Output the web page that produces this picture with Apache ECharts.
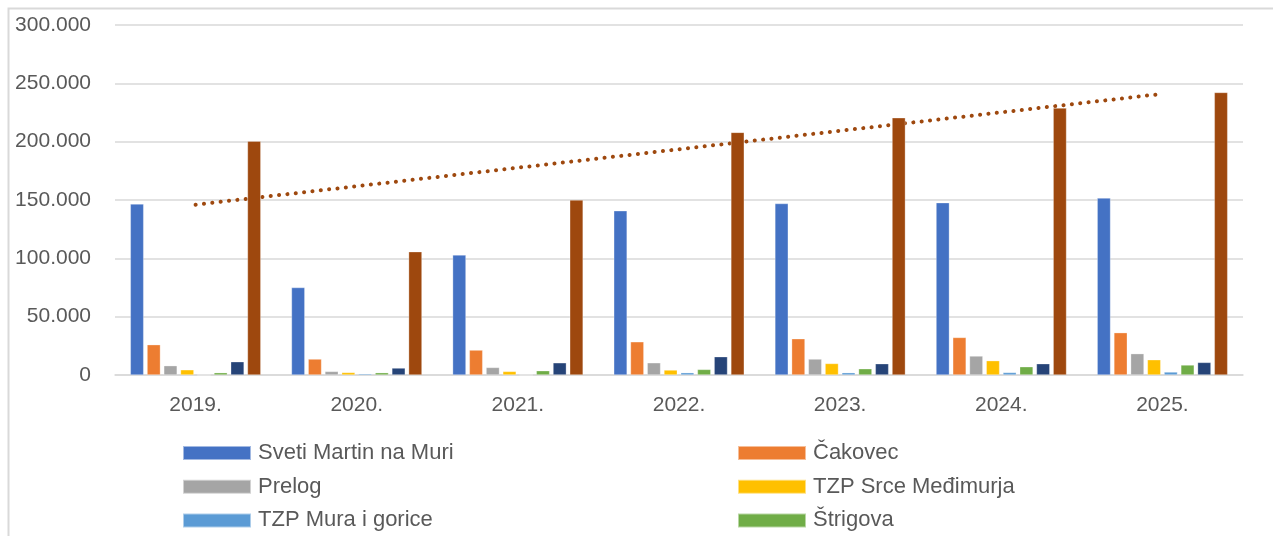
<!DOCTYPE html>
<html>
<head>
<meta charset="utf-8">
<script src="https://cdn.jsdelivr.net/npm/echarts@6/dist/echarts.min.js"></script>
<style>
html,body{margin:0;padding:0;background:#fff;}
#chart{width:1273px;height:536px;}
</style>
</head>
<body>
<div id="chart"></div>
<script>
// ---- data ----
const years = ['2019.', '2020.', '2021.', '2022.', '2023.', '2024.', '2025.'];
const yTicks = { min: 0, max: 300000, interval: 50000 };

const sveti    = [146600, 75000, 102900, 140800, 147000, 147700, 151700];
const cakovec  = [26000, 13700, 21400, 28500, 31100, 32200, 36300];
const prelog   = [8000, 3100, 6500, 10500, 13700, 16300, 18300];
const srce     = [4500, 2200, 3100, 4300, 9900, 12300, 13100];
const mura     = [0, 1100, 0, 2000, 2000, 2200, 2600];
const strigova = [2000, 2000, 3700, 4800, 5400, 7100, 8600];
const ostali   = [11400, 6000, 10500, 15700, 9700, 9700, 10800];
const ukupno   = [200500, 105700, 150000, 208000, 220500, 228800, 242200];

// linear trend line end points
const trendStart = 146000;
const trendEnd = 241000;

const names = ['Sveti Martin na Muri', 'Čakovec', 'Prelog', 'TZP Srce Međimurja',
               'TZP Mura i gorice', 'Štrigova', 'Ostali', 'Ukupno'];
const values = [sveti, cakovec, prelog, srce, mura, strigova, ostali, ukupno];
const colors = ['#4472C4', '#ED7D31', '#A5A5A5', '#FFC000', '#5B9BD5', '#70AD47', '#264478', '#9E480E'];

// ---- chart ----
const FONT = 'Liberation Sans';
const TXT = '#595959';
const chart = echarts.init(document.getElementById('chart'), null, { renderer: 'canvas' });

const trendData = years.map((_, i) => i === 0 ? trendStart : (i === years.length - 1 ? trendEnd : null));

const barSeries = names.map((n, i) => ({
  name: n,
  type: 'bar',
  data: values[i],
  barGap: '25%',
  barCategoryGap: '19%',
  z: 3,
  itemStyle: { color: colors[i], borderColor: 'rgba(255,255,255,0.5)', borderWidth: 0.6 }
}));

const legendCommon = {
  orient: 'vertical',
  icon: 'rect',
  padding: 0,
  itemWidth: 68,
  itemHeight: 14,
  itemGap: 11.7,
  height: 300,
  width: 500,
  textStyle: { fontFamily: FONT, fontSize: 22, color: TXT, lineHeight: 22, padding: [0, 0, 0, 2] },
  selectedMode: false
};

chart.setOption({
  animation: false,
  backgroundColor: '#fff',
  textStyle: { fontFamily: FONT },
  graphic: [{
    type: 'rect',
    shape: { x: 8.5, y: 8.5, width: 1400, height: 700 },
    style: { fill: null, stroke: '#D9D9D9', lineWidth: 2 },
    silent: true,
    z: 0
  }],
  grid: { left: 115, right: 30, top: 25, bottom: 161, containLabel: false },
  legend: [
    Object.assign({}, legendCommon, { left: 182, top: 442, data: [names[0], names[2], names[4], names[6]] }),
    Object.assign({}, legendCommon, { left: 737, top: 442, data: [names[1], names[3], names[5], names[7]] })
  ],
  xAxis: {
    type: 'category',
    data: years,
    axisLine: { lineStyle: { color: '#D9D9D9', width: 1.5 } },
    axisTick: { show: false },
    axisLabel: { color: TXT, fontFamily: FONT, fontSize: 21, margin: 20 }
  },
  yAxis: {
    type: 'value',
    min: yTicks.min,
    max: yTicks.max,
    interval: yTicks.interval,
    axisLine: { show: false },
    axisTick: { show: false },
    splitLine: { lineStyle: { color: '#D9D9D9', width: 1.5 } },
    axisLabel: {
      color: TXT, fontFamily: FONT, fontSize: 21, margin: 24,
      formatter: v => String(v).replace(/\B(?=(\d{3})+(?!\d))/g, '.')
    }
  },
  series: barSeries.concat([{
    name: 'Linearni (Ukupno)',
    type: 'line',
    data: trendData,
    connectNulls: true,
    symbol: 'none',
    z: 1,
    lineStyle: { color: '#9E480E', width: 4, type: [0.1, 8.3], cap: 'round' }
  }])
});
</script>
</body>
</html>
